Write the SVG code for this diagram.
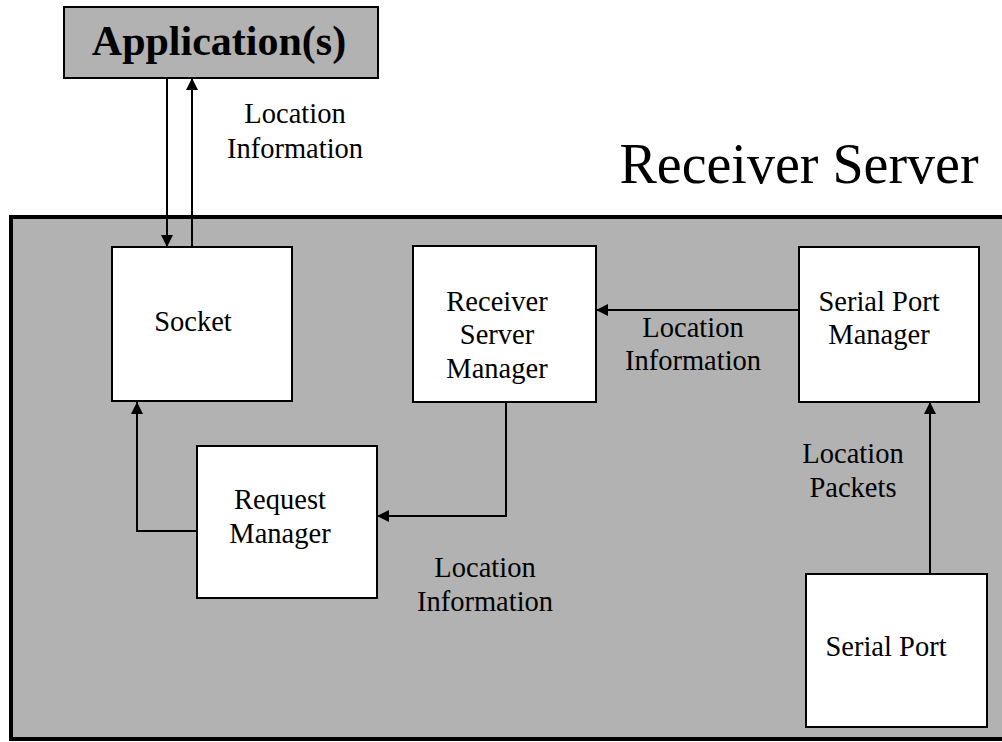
<svg xmlns="http://www.w3.org/2000/svg" width="1002" height="742" viewBox="0 0 1002 742">
  <style>
    .box { fill: #ffffff; stroke: #000000; stroke-width: 2; }
    .label { font-family: "Liberation Serif", "Times New Roman", serif; font-size: 28.5px; fill: #000000; text-anchor: middle; }
    .wire { fill: none; stroke: #000000; stroke-width: 2; marker-end: url(#tip); }
  </style>
  <defs>
    <marker id="tip" markerUnits="userSpaceOnUse" markerWidth="12" markerHeight="12" refX="12" refY="6" orient="auto">
      <path d="M0,0 L12,6 L0,12 z" fill="#000000"/>
    </marker>
  </defs>

  <rect width="1002" height="742" fill="#ffffff"/>

  <!-- server enclosure -->
  <g id="receiver-server">
    <rect x="11" y="217" width="1000" height="522" fill="#b2b2b2" stroke="#000000" stroke-width="4"/>
    <text x="799" y="183" class="label" style="font-size:56px">Receiver Server</text>
  </g>

  <g id="applications">
    <rect x="64" y="7" width="314" height="71" fill="#b2b2b2" stroke="#000000" stroke-width="2"/>
    <text x="219" y="55" class="label" style="font-size:42px;font-weight:bold">Application(s)</text>
  </g>

  <g id="socket">
    <rect class="box" x="112" y="247" width="180" height="154"/>
    <text x="193" y="331" class="label">Socket</text>
  </g>

  <g id="receiver-server-manager">
    <rect class="box" x="413" y="246" width="183" height="156"/>
    <text x="497" y="311" class="label">Receiver</text>
    <text x="497" y="344" class="label">Server</text>
    <text x="497" y="378" class="label">Manager</text>
  </g>

  <g id="serial-port-manager">
    <rect class="box" x="799" y="247" width="180" height="155"/>
    <text x="879" y="311" class="label">Serial Port</text>
    <text x="879" y="344" class="label">Manager</text>
  </g>

  <g id="request-manager">
    <rect class="box" x="197" y="446" width="180" height="152"/>
    <text x="280" y="509" class="label">Request</text>
    <text x="280" y="543" class="label">Manager</text>
  </g>

  <g id="serial-port">
    <rect class="box" x="806" y="574" width="181" height="153"/>
    <text x="886" y="656" class="label">Serial Port</text>
  </g>

  <!-- data flow between components -->
  <g id="connectors">
    <path class="wire" d="M167,78 V247"/>
    <path class="wire" d="M192,247 V78"/>
    <path class="wire" d="M799,310 H596"/>
    <path class="wire" d="M506,402 V516 H377"/>
    <path class="wire" d="M197,531 H137 V402"/>
    <path class="wire" d="M930,574 V402"/>
  </g>

  <g id="connector-labels">
    <text x="295" y="123" class="label">Location</text>
    <text x="295" y="158" class="label">Information</text>
    <text x="693" y="337" class="label">Location</text>
    <text x="693" y="370" class="label">Information</text>
    <text x="485" y="577" class="label">Location</text>
    <text x="485" y="611" class="label">Information</text>
    <text x="853" y="463" class="label">Location</text>
    <text x="853" y="497" class="label">Packets</text>
  </g>
</svg>
